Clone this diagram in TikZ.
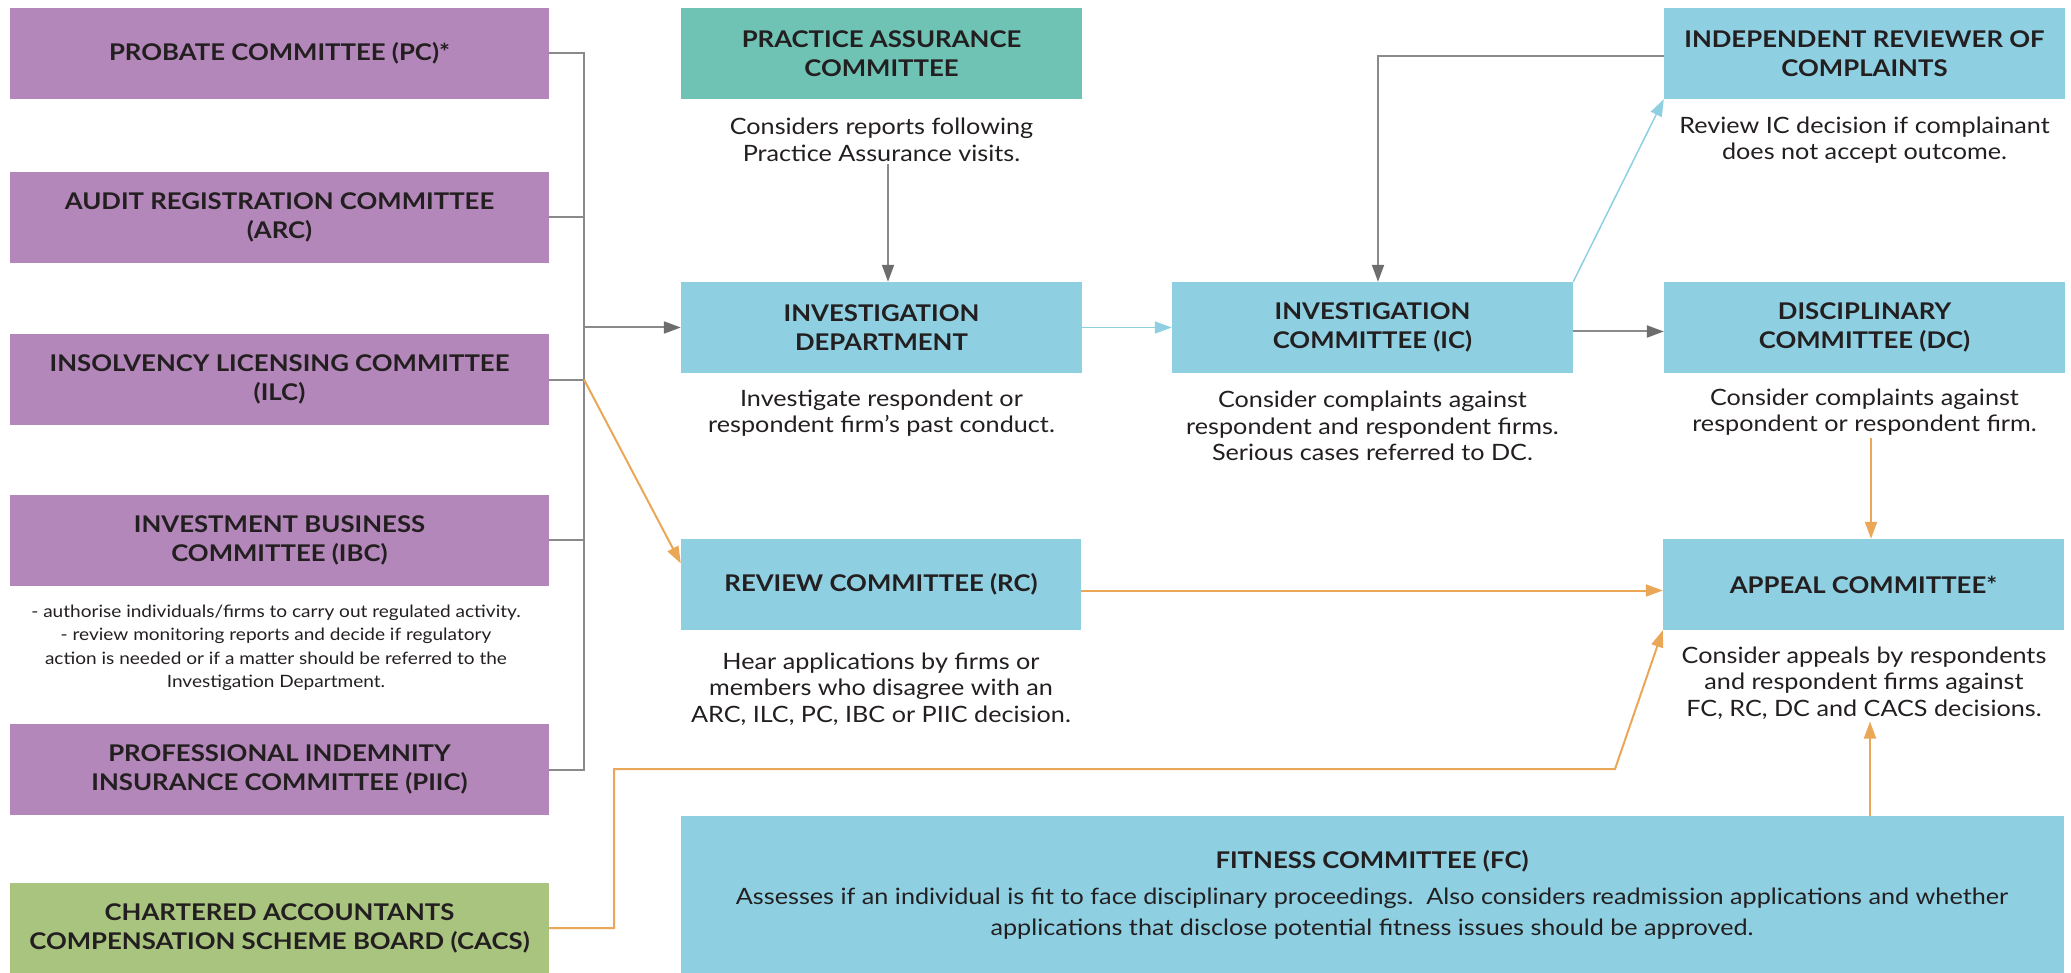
\documentclass[tikz,border=0pt]{standalone}
\usepackage{fontspec}
\setmainfont{Lato}[FakeStretch=1.12]
\newfontfamily\lightfont{Lato}[FakeStretch=1.12]
\usetikzlibrary{arrows.meta}
\definecolor{purp}{HTML}{B387B9}
\definecolor{teal}{HTML}{6FC3B5}
\definecolor{lblue}{HTML}{8ED0E2}
\definecolor{lgreen}{HTML}{A9C47F}
\definecolor{txt}{HTML}{231F20}
\definecolor{gline}{HTML}{8A8A8A}
\definecolor{garrow}{HTML}{6D6D6D}
\definecolor{orng}{HTML}{EBA758}
\definecolor{bline}{HTML}{8ED0E2}
\newcommand{\headfont}{\bfseries\fontsize{23}{29}\selectfont}
\newcommand{\descfont}{\lightfont\fontsize{22.5}{26.5}\selectfont}
\newcommand{\smallfont}{\lightfont\fontsize{17}{23.5}\selectfont}
\begin{document}
\begin{tikzpicture}[x=1pt,y=-1pt,
  box/.style={rectangle, inner sep=0pt, align=center, text=txt, font=\headfont},
  lbox/.style={box, minimum width=539pt, minimum height=91pt, fill=purp},
  cbox/.style={box, minimum width=401pt, minimum height=91pt, fill=lblue},
  desc/.style={align=center, text=txt, font=\descfont, inner sep=2pt},
  gl/.style={draw=gline, line width=2pt},
  ga/.style={gl, -{Triangle[length=17pt,width=12pt,color=garrow]}},
  oa/.style={draw=orng, line width=2pt, -{Triangle[length=17pt,width=12pt]}},
  ba/.style={draw=bline, line width=1.5pt, -{Triangle[length=17pt,width=12pt]}}]
\useasboundingbox (0,0) rectangle (2071,973);
% left column
\node[lbox] (pc) at (279.5,53.5) {PROBATE COMMITTEE (PC)*};
\node[lbox] (arc) at (279.5,217.5) {AUDIT REGISTRATION COMMITTEE\\(ARC)};
\node[lbox] (ilc) at (279.5,379.5) {INSOLVENCY LICENSING COMMITTEE\\(ILC)};
\node[lbox] (ibc) at (279.5,540) {INVESTMENT BUSINESS\\COMMITTEE (IBC)};
\node[align=center, text=txt, font=\smallfont, inner sep=0pt] (ibcdesc) at (276,648)
  {- authorise individuals/firms to carry out regulated activity.\\
   - review monitoring reports and decide if regulatory\\
   action is needed or if a matter should be referred to the\\
   Investigation Department.};
\node[lbox] (piic) at (279.5,769.5) {PROFESSIONAL INDEMNITY\\INSURANCE COMMITTEE (PIIC)};
\node[lbox, fill=lgreen, minimum height=90pt] (cacs) at (279.5,928) {CHARTERED ACCOUNTANTS\\COMPENSATION SCHEME BOARD (CACS)};
% middle column
\node[cbox, fill=teal] (pac) at (881.5,53.5) {PRACTICE ASSURANCE\\COMMITTEE};
\node[desc] (pacdesc) at (881.5,140) {Considers reports following\\Practice Assurance visits.};
\node[cbox] (id) at (881.5,327.5) {INVESTIGATION\\DEPARTMENT};
\node[desc] (iddesc) at (881.5,413) {Investigate respondent or\\respondent firm’s past conduct.};
\node[cbox, minimum width=400pt] (rc) at (881,584.5) {REVIEW COMMITTEE (RC)};
\node[desc] (rcdesc) at (881,689) {Hear applications by firms or\\members who disagree with an\\ARC, ILC, PC, IBC or PIIC decision.};
\node[cbox] (ic) at (1372.5,327.5) {INVESTIGATION\\COMMITTEE (IC)};
\node[desc] (icdesc) at (1372.5,426) {Consider complaints against\\respondent and respondent firms.\\Serious cases referred to DC.};
% right column
\node[cbox] (irc) at (1864.5,53.5) {INDEPENDENT REVIEWER OF\\COMPLAINTS};
\node[desc] (ircdesc) at (1864.5,140) {Review IC decision if complainant\\does not accept outcome.};
\node[cbox] (dc) at (1864.5,327.5) {DISCIPLINARY\\COMMITTEE (DC)};
\node[desc] (dcdesc) at (1864.5,412) {Consider complaints against\\respondent or respondent firm.};
\node[cbox] (ap) at (1863.5,584.5) {APPEAL COMMITTEE*};
\node[desc] (apdesc) at (1864,683) {Consider appeals by respondents\\and respondent firms against\\FC, RC, DC and CACS decisions.};
% fitness
\node[box, fill=lblue, minimum width=1383pt, minimum height=157pt] (fc) at (1372,894.5) {};
\node[box, fill=none] (fchead) at (1372,861) {FITNESS COMMITTEE (FC)};
\node[desc, font=\lightfont\fontsize{22.5}{31}\selectfont] (fcdesc) at (1372,914) {Assesses if an individual is fit to face disciplinary proceedings.\ \ Also considers readmission applications and whether\\applications that disclose potential fitness issues should be approved.};
% bus
\coordinate (bus) at (584,56);
\draw[gl] (pc.east) -- (pc.east -| bus) -- (piic.east -| bus) -- (piic.east);
\draw[gl] (arc.east) -- (arc.east -| bus);
\draw[gl] (ilc.east) -- (ilc.east -| bus);
\draw[gl] (ibc.east) -- (ibc.east -| bus);
\draw[ga] (id.west -| bus) -- (id.west);
\draw[oa] (ilc.east -| bus) -- (rc.174);
% middle arrows
\draw[ga] ([xshift=6.5pt]pacdesc.south) -- ([xshift=6.5pt]id.north);
\draw[ba] (id.east) -- (ic.west);
\draw[ga] ([yshift=-4pt]ic.east) -- ([yshift=-4pt]dc.west);
\draw[ba] (ic.north east) -- (irc.south west);
\draw[ga] ([yshift=-2.5pt]irc.west) -| ([xshift=5.5pt]ic.north);
% orange arrows
\draw[oa] ([xshift=6.5pt]dcdesc.south) -- ([xshift=7.5pt]ap.north);
\draw[oa] ([yshift=-6pt]rc.east) -- ([yshift=-6pt]ap.west);
\draw[oa] ([xshift=6.5pt]fc.north -| ap.south) -- ([xshift=6.5pt]ap.south |- apdesc.south);
\coordinate (c1) at (614,769);
\coordinate (c2) at (1615,769);
\draw[oa] (cacs.east) -| (c1) -- (c2) -- (ap.south west);
\end{tikzpicture}
\end{document}
